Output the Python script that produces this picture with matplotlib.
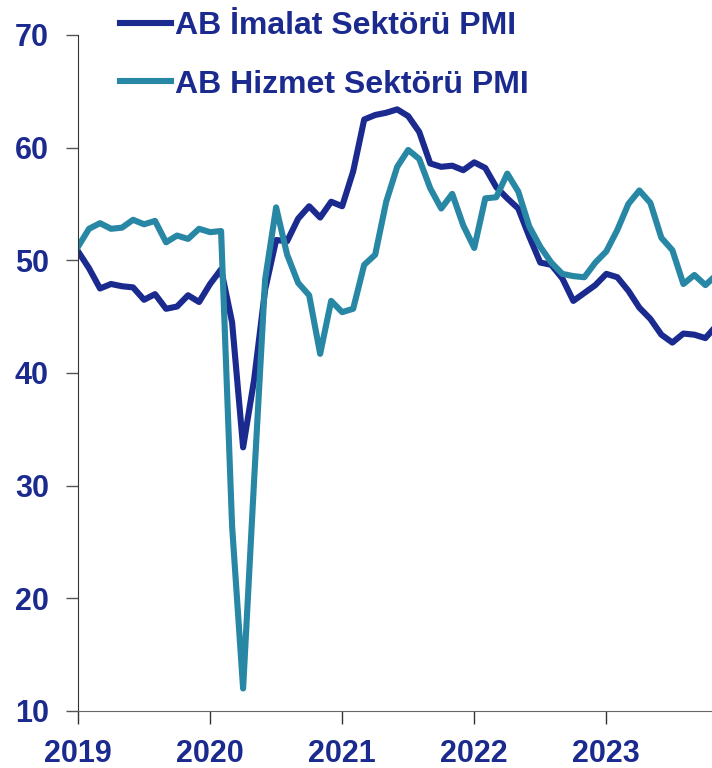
import matplotlib.pyplot as plt
import numpy as np

# Aylık veriler: Ocak 2019 - Kasım 2023
imalat = [
    50.8, 49.3, 47.5, 47.9, 47.7, 47.6, 46.5, 47.0, 45.7, 45.9, 46.9, 46.3,
    47.9, 49.2, 44.5, 33.4, 39.4, 47.4, 51.8, 51.7, 53.7, 54.8, 53.8, 55.2,
    54.8, 57.9, 62.5, 62.9, 63.1, 63.4, 62.8, 61.4, 58.6, 58.3, 58.4, 58.0,
    58.7, 58.2, 56.5, 55.5, 54.6, 52.1, 49.8, 49.6, 48.4, 46.4, 47.1, 47.8,
    48.8, 48.5, 47.3, 45.8, 44.8, 43.4, 42.7, 43.5, 43.4, 43.1, 44.2,
]
hizmet = [
    51.2, 52.8, 53.3, 52.8, 52.9, 53.6, 53.2, 53.5, 51.6, 52.2, 51.9, 52.8,
    52.5, 52.6, 26.4, 12.0, 30.5, 48.3, 54.7, 50.5, 48.0, 46.9, 41.7, 46.4,
    45.4, 45.7, 49.6, 50.5, 55.2, 58.3, 59.8, 59.0, 56.4, 54.6, 55.9, 53.1,
    51.1, 55.5, 55.6, 57.7, 56.1, 53.0, 51.2, 49.8, 48.8, 48.6, 48.5, 49.8,
    50.8, 52.7, 55.0, 56.2, 55.1, 52.0, 50.9, 47.9, 48.7, 47.8, 48.7,
]
yillar = ['2019', '2020', '2021', '2022', '2023']
etiketler = ['AB İmalat Sektörü PMI', 'AB Hizmet Sektörü PMI']

koyu_mavi = '#1b2a8e'
turkuaz = '#2787a5'
plt.rcParams['font.family'] = ['Liberation Sans', 'DejaVu Sans']

fig = plt.figure(figsize=(7.12, 7.68), dpi=100)
ax = fig.add_axes([78 / 712, 1 - 711 / 768, 1 - 78 / 712, (711 - 35) / 768])

x = np.arange(len(imalat))
ax.plot(x, imalat, color=koyu_mavi, lw=4.4, label=etiketler[0], solid_joinstyle='round')
ax.plot(x, hizmet, color=turkuaz, lw=4.4, label=etiketler[1], solid_joinstyle='round')

ax.set_xlim(0, 57.6)
ax.set_ylim(10, 70)
ax.set_yticks(range(10, 71, 10))
ax.set_xticks(np.arange(len(yillar)) * 12)
ax.set_xticklabels(yillar)

for s in ['top', 'right']:
    ax.spines[s].set_visible(False)
ax.spines['left'].set_color('#333333')
ax.spines['bottom'].set_color('#666666')
ax.tick_params(axis='y', direction='out', length=9, width=1, color='#555555', pad=12,
               labelsize=22, labelcolor=koyu_mavi)
ax.tick_params(axis='x', direction='out', length=9, width=1, color='#333333', pad=11,
               labelsize=22, labelcolor=koyu_mavi)
for t in ax.get_xticklabels() + ax.get_yticklabels():
    t.set_fontweight('bold')

leg = fig.legend(loc='upper left', bbox_to_anchor=(107 / 712, 1 + 2 / 768), frameon=False,
                 handlelength=1.6, handletextpad=0.14, labelspacing=0.9, borderaxespad=0,
                 prop={'size': 23, 'weight': 'bold'})
for t in leg.get_texts():
    t.set_color(koyu_mavi)

fig.savefig('out.png', dpi=100)
